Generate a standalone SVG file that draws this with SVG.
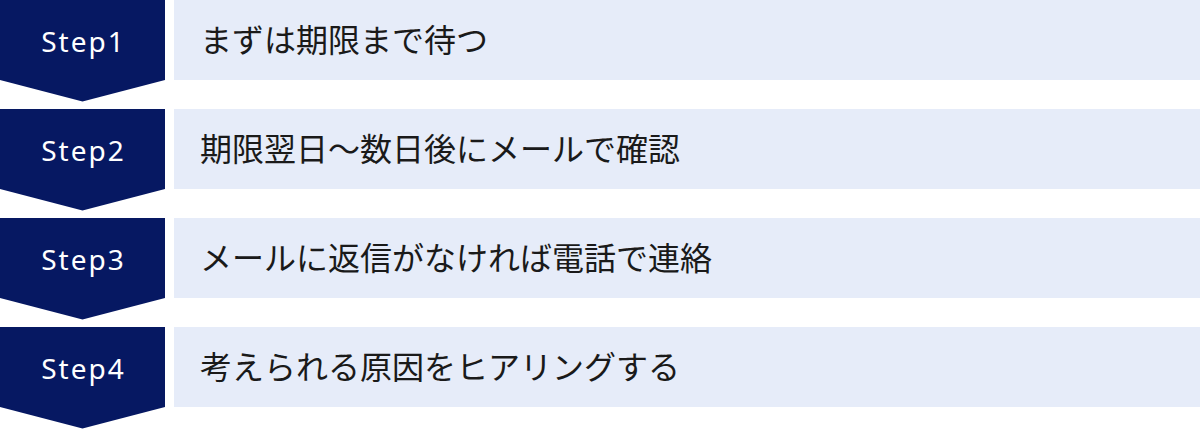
<svg xmlns="http://www.w3.org/2000/svg" width="1200" height="429" viewBox="0 0 1200 429">
<defs>
<style>
.chev{fill:#061862}
.box{fill:#E6ECF9}
.step{font-family:"Noto Sans","Open Sans",sans-serif;font-size:28px;fill:#ffffff;text-anchor:middle;letter-spacing:2px}
.lbl{font-family:"Noto Sans CJK JP","Noto Sans",sans-serif;font-size:32px;fill:#1a1a1a}
</style>
</defs>
<rect width="1200" height="429" fill="#ffffff"/>
<g id="step1">
<polygon class="chev" points="0,0 165,0 165,80 82.5,101.5 0,80"/>
<text class="step" x="83.5" y="52">Step1</text>
<rect class="box" x="174" y="0" width="1026" height="80"/>
<text class="lbl" x="200" y="51.5">まずは期限まで待つ</text>
</g>
<g id="step2">
<polygon class="chev" points="0,109 165,109 165,189 82.5,210.5 0,189"/>
<text class="step" x="83.5" y="161">Step2</text>
<rect class="box" x="174" y="109" width="1026" height="80"/>
<text class="lbl" x="200" y="160.5">期限翌日〜数日後にメールで確認</text>
</g>
<g id="step3">
<polygon class="chev" points="0,218 165,218 165,298 82.5,319.5 0,298"/>
<text class="step" x="83.5" y="270">Step3</text>
<rect class="box" x="174" y="218" width="1026" height="80"/>
<text class="lbl" x="200" y="269.5">メールに返信がなければ電話で連絡</text>
</g>
<g id="step4">
<polygon class="chev" points="0,327 165,327 165,407 82.5,428.5 0,407"/>
<text class="step" x="83.5" y="379">Step4</text>
<rect class="box" x="174" y="327" width="1026" height="80"/>
<text class="lbl" x="200" y="378.5">考えられる原因をヒアリングする</text>
</g>
<g id="connectors"></g>
</svg>
